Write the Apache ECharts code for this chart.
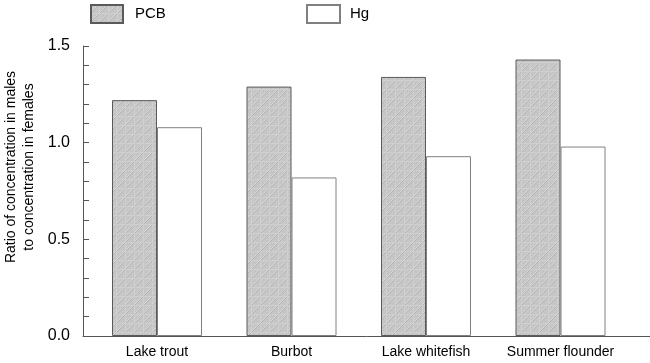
<!DOCTYPE html>
<html>
<head>
<meta charset="utf-8">
<script src="https://cdn.jsdelivr.net/npm/echarts@6/dist/echarts.min.js"></script>
<style>
html, body { margin: 0; padding: 0; background: #fff; }
#main { width: 650px; height: 363px; }
</style>
</head>
<body>
<div id="main"></div>
<script>
var fish = ['Lake trout', 'Burbot', 'Lake whitefish', 'Summer flounder'];
var pcb = [1.22, 1.29, 1.34, 1.43];
var hg = [1.08, 0.82, 0.93, 0.98];
var yTicks = [0, 0.5, 1.0, 1.5];

// hatched grey fill
function hatch() {
	var c = document.createElement('canvas');
	c.width = 9; c.height = 9;
	var g = c.getContext('2d');
	g.fillStyle = '#c6c6c6';
	g.fillRect(0, 0, 9, 9);
	g.fillStyle = '#cfcfcf';
	g.fillRect(0, 8, 9, 1);
	g.fillRect(8, 0, 1, 9);
	for (var i = 0; i < 8; i++) {
		g.fillStyle = '#b2b2b2';
		g.fillRect(7 - i, i, 1, 1);
		g.fillStyle = '#d8d8d8';
		if (i < 7) g.fillRect(6 - i, i, 1, 1);
	}
	return c;
}
var pcbFill = { image: hatch(), repeat: 'repeat' };

var myChart = echarts.init(document.getElementById('main'));
var font = 'Liberation Sans, Arial, sans-serif';
var option = {
	animation: false,
	textStyle: { fontFamily: font },
	legend: [{
		data: ['PCB'], left: 90, top: 4, padding: 0, itemWidth: 32, itemHeight: 18, icon: 'rect',
		textStyle: { fontSize: 15, color: '#000', padding: [0, 0, 0, 7] }
	}, {
		data: ['Hg'], left: 306, top: 4, padding: 0, itemWidth: 33, itemHeight: 18, icon: 'rect',
		textStyle: { fontSize: 15, color: '#000', padding: [0, 0, 0, 5] }
	}],
	graphic: [{
		type: 'text', x: 20, y: 167, rotation: Math.PI / 2,
		style: {
			text: 'Ratio of concentration in males\nto concentration in females',
			font: '14px ' + font, fill: '#000', align: 'center', verticalAlign: 'middle', lineHeight: 18
		}
	}],
	grid: [
		{ left: 83, right: 0, top: 46, bottom: 27 },
		{ left: 89.75, width: 538, top: 46, bottom: 27 }
	],
	xAxis: [{
		gridIndex: 0, type: 'value', min: 0, max: 1,
		axisLine: { lineStyle: { color: '#555', width: 1 } },
		axisTick: { show: false }, axisLabel: { show: false }, splitLine: { show: false }
	}, {
		gridIndex: 1, type: 'category', data: fish,
		axisLine: { show: false }, axisTick: { show: false },
		axisLabel: { fontSize: 14, color: '#000', margin: 9, interval: 0, hideOverlap: false }
	}],
	yAxis: [{
		gridIndex: 0, type: 'value', min: 0, max: 1.5, interval: 0.1,
		axisLine: { show: true, lineStyle: { color: '#555', width: 1 } },
		axisTick: { show: true, inside: true, length: 6, lineStyle: { color: '#555' } },
		axisLabel: {
			fontSize: 16, color: '#000', margin: 13,
			formatter: function(v) {
				var r = Math.round(v * 10) / 10;
				for (var i = 0; i < yTicks.length; i++) {
					if (Math.abs(yTicks[i] - r) < 1e-6) return r.toFixed(1);
				}
				return '';
			}
		},
		splitLine: { show: false }
	}, {
		gridIndex: 1, type: 'value', min: 0, max: 1.5, show: false
	}],
	series: [{
		name: 'PCB', type: 'bar', xAxisIndex: 1, yAxisIndex: 1,
		data: pcb, barWidth: 45, barGap: '0%',
		itemStyle: { color: pcbFill, borderColor: '#5a5a5a', borderWidth: 1 }
	}, {
		name: 'Hg', type: 'bar', xAxisIndex: 1, yAxisIndex: 1,
		data: hg, barWidth: 45,
		itemStyle: { color: '#fff', borderColor: '#808080', borderWidth: 1 }
	}]
};
myChart.setOption(option);
</script>
</body>
</html>
